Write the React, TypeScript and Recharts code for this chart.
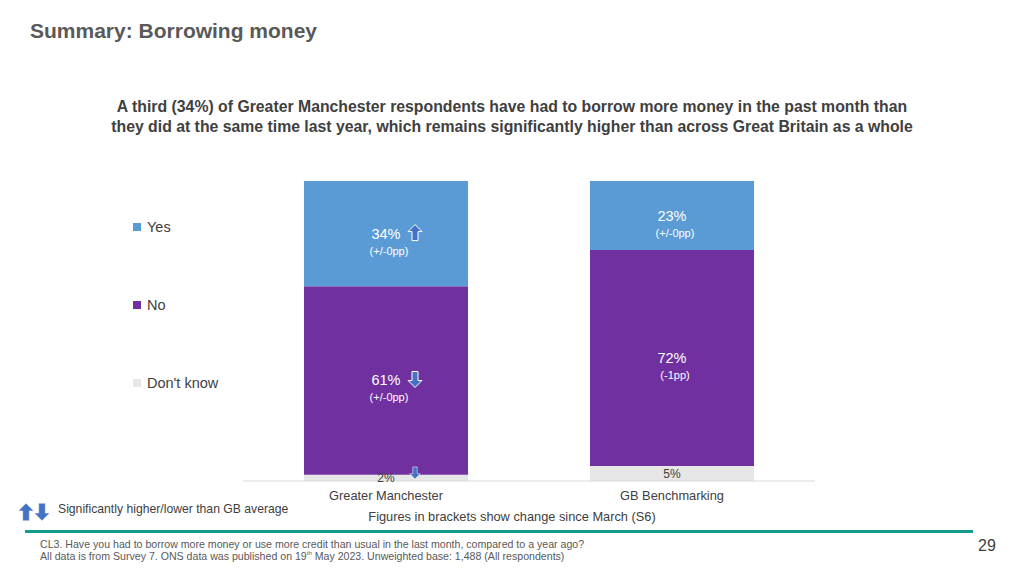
import React from 'react'
import { BarChart, Bar, XAxis, YAxis, LabelList } from 'recharts'

const categories = ['Greater Manchester', 'GB Benchmarking']
const yesValues = [34, 23]
const noValues = [61, 72]
const dontKnowValues = [2, 5]
const yesChange = ['(+/-0pp)', '(+/-0pp)']
const noChange = ['(+/-0pp)', '(-1pp)']
const yesSig = ['up', null]
const noSig = ['down', null]
const dontKnowSig = ['down', null]
const seriesNames = ['Yes', 'No', "Don't know"]

const BLUE = '#5B9BD5'
const PURPLE = '#7030A0'
const GREY = '#E7E6E6'
const ARROW = '#4472C4'
const FONT = '"Liberation Sans", Arial, sans-serif'

const data = categories.map((name, i) => ({
  name,
  yes: yesValues[i],
  no: noValues[i],
  dk: dontKnowValues[i],
}))

function Arrow({ x, y, dir, s = 1, sw = 1 }: { x: number; y: number; dir: string; s?: number; sw?: number }) {
  const k = dir === 'up' ? 1 : -1
  const p = [
    [0, -8],
    [7, -1],
    [3, -1],
    [3, 8],
    [-3, 8],
    [-3, -1],
    [-7, -1],
  ]
  const d = p.map(([px, py], j) => `${j ? 'L' : 'M'}${x + px * s},${y + py * k * s}`).join(' ') + ' Z'
  return <path d={d} fill={ARROW} stroke="#fff" strokeWidth={sw} />
}

function makeLabel(values: number[], changes: string[] | null, sig: (string | null)[], light: boolean) {
  return (props: any) => {
    const { x, y, width, height, value } = props
    const i = categories.indexOf(value)
    if (i < 0) return null
    const cx = Number(x) + Number(width) / 2
    const cy = Number(y) + Number(height) / 2
    if (!light) {
      return (
        <g>
          <text x={cx} y={cy} textAnchor="middle" dominantBaseline="central" fontSize={12} fill="#404040" fontFamily={FONT}>
            {values[i]}%
          </text>
          {sig[i] && <Arrow x={cx + 29} y={cy - 5} dir={sig[i] as string} s={0.75} sw={0.5} />}
        </g>
      )
    }
    return (
      <g>
        <text x={cx} y={cy} textAnchor="middle" dominantBaseline="central" fontSize={14.5} fill="#fff" fontFamily={FONT}>
          {values[i]}%
        </text>
        {changes && (
          <text x={cx + 3} y={cy + 17} textAnchor="middle" dominantBaseline="central" fontSize={11} fill="#fff" fontFamily={FONT}>
            {changes[i]}
          </text>
        )}
        {sig[i] && <Arrow x={cx + 29} y={cy - 1} dir={sig[i] as string} sw={1} />}
      </g>
    )
  }
}

function LegendBox() {
  const colors = [BLUE, PURPLE, GREY]
  return (
    <div style={{ position: 'absolute', left: 133, top: 218, fontFamily: FONT }}>
      {seriesNames.map((n, i) => (
        <div key={n} style={{ height: 78, display: 'flex', alignItems: 'flex-start' }}>
          <span style={{ display: 'inline-block', width: 8, height: 8, background: colors[i], marginTop: 5, marginRight: 6 }} />
          <span style={{ fontSize: 14.5, color: '#404040', lineHeight: '18px' }}>{n}</span>
        </div>
      ))}
    </div>
  )
}

export default function App() {
  return (
    <div style={{ position: 'absolute', left: 0, top: 0, width: 1024, height: 576, background: '#fff', fontFamily: FONT, overflow: 'hidden' }}>
      <div style={{ position: 'absolute', left: 30, top: 18, fontSize: 21, fontWeight: 'bold', color: '#595959', lineHeight: '26px' }}>
        Summary: Borrowing money
      </div>
      <div style={{ position: 'absolute', left: 0, width: 1024, top: 97, textAlign: 'center', fontSize: 15.8, fontWeight: 'bold', color: '#404040', lineHeight: '20px' }}>
        A third (34%) of Greater Manchester respondents have had to borrow more money in the past month than
        <br />
        they did at the same time last year, which remains significantly higher than across Great Britain as a whole
      </div>

      <BarChart
        width={1024}
        height={576}
        data={data}
        stackOffset="expand"
        margin={{ top: 181, right: 209, left: 243, bottom: 65 }}
        style={{ position: 'absolute', left: 0, top: 0 }}
      >
        <XAxis
          dataKey="name"
          height={30}
          tickLine={false}
          axisLine={{ stroke: '#D9D9D9' }}
          tick={{ fontSize: 12.8, fill: '#404040', fontFamily: FONT, dy: 2 }}
        />
        <YAxis hide />
        <Bar dataKey="dk" name="Don't know" stackId="a" fill={GREY} barSize={164} isAnimationActive={false}>
          <LabelList dataKey="name" content={makeLabel(dontKnowValues, null, dontKnowSig, false)} />
        </Bar>
        <Bar dataKey="no" name="No" stackId="a" fill={PURPLE} barSize={164} isAnimationActive={false}>
          <LabelList dataKey="name" content={makeLabel(noValues, noChange, noSig, true)} />
        </Bar>
        <Bar dataKey="yes" name="Yes" stackId="a" fill={BLUE} barSize={164} isAnimationActive={false}>
          <LabelList dataKey="name" content={makeLabel(yesValues, yesChange, yesSig, true)} />
        </Bar>
      </BarChart>

      <LegendBox />

      <svg width={40} height={24} style={{ position: 'absolute', left: 14, top: 500 }}>
        <Arrow x={12} y={12} dir="up" s={1.1} sw={0.5} />
        <Arrow x={28} y={12} dir="down" s={1.1} sw={0.5} />
      </svg>
      <div style={{ position: 'absolute', left: 58, top: 502, fontSize: 12.2, color: '#404040', lineHeight: '14px' }}>
        Significantly higher/lower than GB average
      </div>
      <div style={{ position: 'absolute', left: 0, width: 1024, top: 510, textAlign: 'center', fontSize: 12.8, color: '#404040', lineHeight: '14px' }}>
        Figures in brackets show change since March (S6)
      </div>
      <div style={{ position: 'absolute', left: 25, top: 530, width: 948, height: 3, background: '#139C8E' }} />
      <div style={{ position: 'absolute', left: 40, top: 538, fontSize: 10.6, color: '#595959', lineHeight: '12px' }}>
        CL3. Have you had to borrow more money or use more credit than usual in the last month, compared to a year ago?
        <br />
        All data is from Survey 7. ONS data was published on 19
        <span style={{ fontSize: 6, verticalAlign: 'top', lineHeight: '6px' }}>th</span> May 2023. Unweighted base: 1,488 (All respondents)
      </div>
      <div style={{ position: 'absolute', left: 978, top: 537, fontSize: 16, color: '#404040', lineHeight: '18px' }}>29</div>
    </div>
  )
}
